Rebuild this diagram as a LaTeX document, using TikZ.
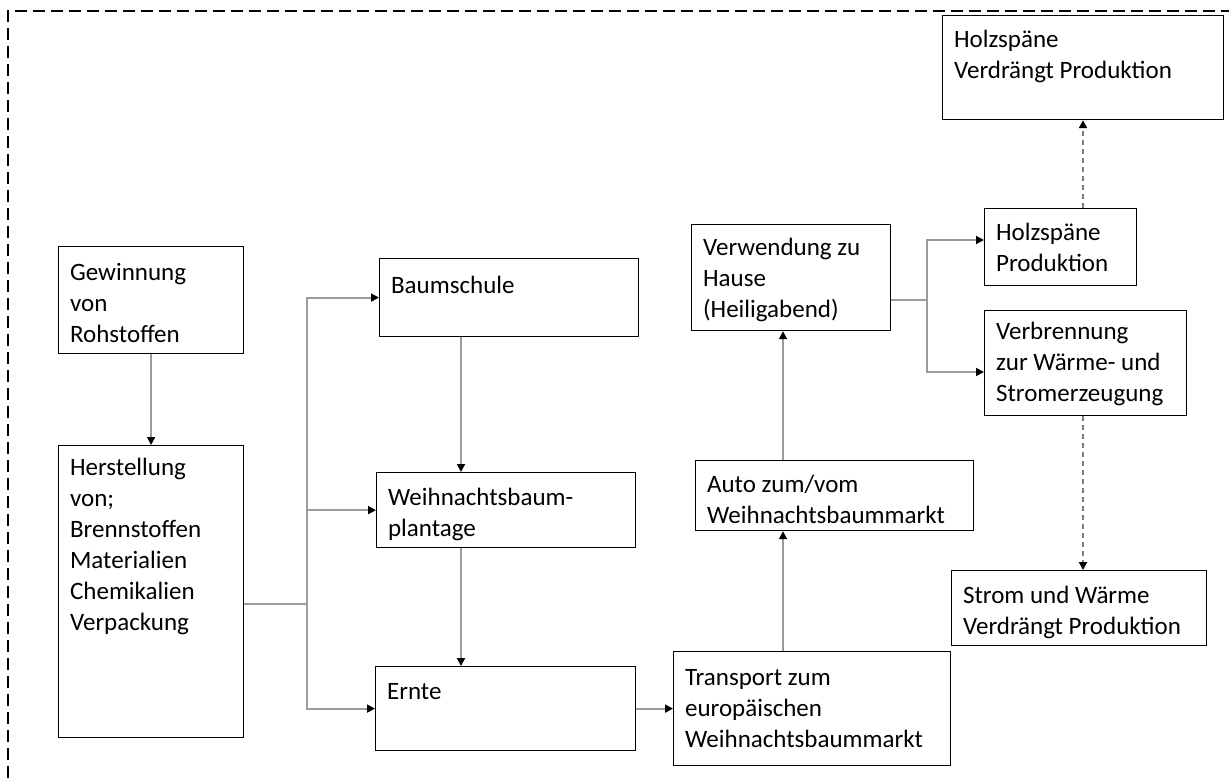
\documentclass[tikz,border=0pt]{standalone}
\usepackage{fontspec}
\setmainfont{Carlito}
\usetikzlibrary{arrows.meta}
\definecolor{conngray}{HTML}{9C9C9C}
\definecolor{dashgray}{HTML}{7C7C7C}
\newcommand\bt[4]{\parbox[c][#2pt][t]{#1pt}{\raggedright\leftskip=11.5pt\parindent=0pt\rule{0pt}{#3pt}#4}}
\tikzset{
  every node/.style={font=\fontsize{25}{31}\selectfont},
  box/.style={draw=black, line width=1.2pt, inner sep=0pt, anchor=north west, fill=white},
  conn/.style={draw=conngray, line width=1.8pt, -{Triangle[length=8pt,width=8pt,color=black]}},
  plain/.style={draw=conngray, line width=1.8pt},
  dconn/.style={draw=dashgray, line width=2.6pt, dash pattern=on 5pt off 4pt, -{Triangle[length=8pt,width=8pt,color=black]}},
  border/.style={draw=black, line width=1.8pt, dash pattern=on 12pt off 6pt}
}
\begin{document}
\begin{tikzpicture}[x=1pt,y=-1pt]
\useasboundingbox (0,0) rectangle (1229,778);
\draw[border] (8,778) -- (8,11) -- (1229,11);

\node[box] (g)  at (58,246)  {\bt{185}{107}{34}{Gewinnung\\von\\Rohstoffen}};
\node[box] (h)  at (58,445)  {\bt{185}{292}{30}{Herstellung\\von;\\Brennstoffen\\Materialien\\Chemikalien\\Verpackung}};
\node[box] (b)  at (379,258) {\bt{259}{78}{35}{Baumschule}};
\node[box] (w)  at (376,472) {\bt{259}{75}{33}{Weihnachtsbaum-\\plantage}};
\node[box] (e)  at (375,666) {\bt{260}{84}{33}{Ernte}};
\node[box] (t)  at (673,651) {\bt{277}{114}{34}{Transport zum\\europäischen\\Weihnachtsbaummarkt}};
\node[box] (a)  at (695,460) {\bt{278}{70}{32}{Auto zum/vom\\Weihnachtsbaummarkt}};
\node[box] (v)  at (691,224) {\bt{199}{106}{31}{Verwendung zu\\Hause\\(Heiligabend)}};
\node[box] (hp) at (984,208) {\bt{152}{77}{32}{Holzspäne\\Produktion}};
\node[box] (vb) at (984,310) {\bt{202}{105}{29}{Verbrennung\\zur Wärme- und\\Stromerzeugung}};
\node[box] (s)  at (951,570) {\bt{255}{75}{33}{Strom und Wärme\\Verdrängt Produktion}};
\node[box] (hv) at (942,15)  {\bt{281}{104}{32}{Holzspäne\\Verdrängt Produktion}};

\coordinate (j1) at (307,604);
\coordinate (cx) at (461,0);
\coordinate (tx) at (783,0);
\coordinate (vs) at (927,300);
\coordinate (vu) at (927,240);
\coordinate (vd) at (927,372);
\coordinate (dx) at (1083,0);

\draw[conn] (g.south) -- (h.north);
\draw[plain] (h.east |- j1) -- (j1);
\draw[conn] (j1) |- (b.west);
\draw[conn] (j1) |- (w.west);
\draw[conn] (j1) |- (e.west);
\draw[conn] (b.south -| cx) -- (w.north -| cx);
\draw[conn] (w.south -| cx) -- (e.north -| cx);
\draw[conn] (e.east) -- (e.east -| t.west);
\draw[conn] (t.north -| tx) -- (a.south -| tx);
\draw[conn] (a.north -| tx) -- (v.south -| tx);
\draw[plain] (v.east |- vs) -- (vs);
\draw[conn] (vs) -- (vu) -- (vu -| hp.west);
\draw[conn] (vs) -- (vd) -- (vd -| vb.west);
\draw[dconn] (hp.north -| dx) -- (hv.south -| dx);
\draw[dconn] (vb.south -| dx) -- (s.north -| dx);
\end{tikzpicture}
\end{document}
